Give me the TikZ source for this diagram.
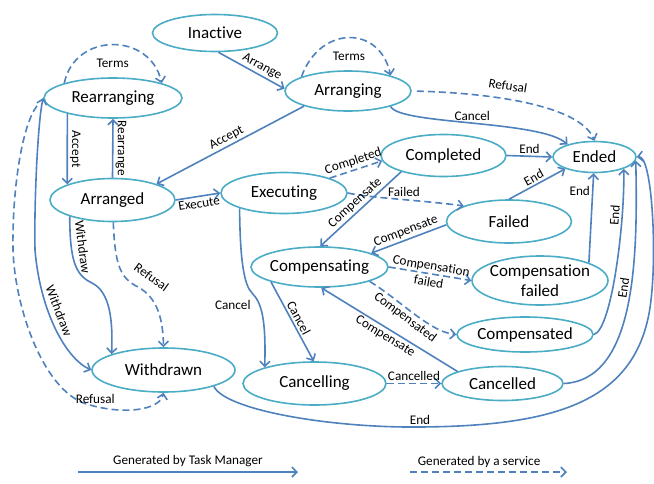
\documentclass[tikz,border=0pt]{standalone}
\usepackage{fontspec}
\setmainfont{Carlito}[Ligatures={NoCommon,NoContextual,NoRare}, RawFeature={-liga;-clig;-dlig}]
\usetikzlibrary{shapes.geometric,arrows.meta}
\definecolor{edgeblue}{RGB}{79,129,189}
\definecolor{stateblue}{RGB}{75,172,198}

\begin{document}
\begin{tikzpicture}[x=1pt, y=-1pt, >={Straight Barb[length=5pt,width=10pt]},
	state/.style={ellipse, draw=stateblue, line width=1.6pt, fill=white, inner xsep=-4pt, inner ysep=0pt, align=center, font=\fontsize{17}{20}\selectfont},
	tm/.style={draw=edgeblue, line width=1.6pt, ->, every node/.style={font=\fontsize{13.2}{15}\selectfont, inner sep=2pt}},
	svc/.style={tm, dash pattern=on 7pt off 4pt}]
\useasboundingbox (0,0) rectangle (654,483);
\node[state, minimum width=125pt, minimum height=37pt] (inactive) at (215,33) {Inactive};
\node[state, minimum width=126pt, minimum height=40pt] (arranging) at (348,91) {Arranging};
\node[state, minimum width=138pt, minimum height=40pt] (rearranging) at (113,98) {Rearranging};
\node[state, minimum width=125pt, minimum height=43pt] (arranged) at (112.5,200) {Arranged};
\node[state, minimum width=126pt, minimum height=41pt] (executing) at (284,193) {Executing};
\node[state, minimum width=125pt, minimum height=42pt] (completed) at (443.5,155.5) {Completed};
\node[state, minimum width=83pt, minimum height=31pt] (ended) at (594.5,157) {Ended};
\node[state, minimum width=125pt, minimum height=43pt] (failed) at (509,221.5) {Failed};
\node[state, minimum width=137pt, minimum height=40pt] (compensating) at (319.5,267) {Compensating};
\node[state, minimum width=136pt, minimum height=49pt, inner xsep=-6pt] (compfailed) at (540,280.5) {Compensation\\failed};
\node[state, minimum width=136pt, minimum height=35pt] (compensated) at (525,334.5) {Compensated};
\node[state, minimum width=143pt, minimum height=44pt] (withdrawn) at (163.5,370) {Withdrawn};
\node[state, minimum width=143pt, minimum height=43pt] (cancelling) at (314.5,383.5) {Cancelling};
\node[state, minimum width=121pt, minimum height=34pt] (cancelled) at (502.5,383.5) {Cancelled};

\draw[tm] (inactive.-80) -- node[sloped, above, pos=.6] {Arrange} (arranging.178);
\draw[svc] (arranging.163) .. controls (320,25) and (380,25) .. node[below=11pt] {Terms} (arranging.20);
\draw[svc] (rearranging.163) .. controls (75,32) and (150,32) .. node[below=11pt] {Terms} (rearranging.17);
\draw[svc, shorten <=5pt] (arranging.east) .. controls (490,93) and (580,105) .. node[sloped, above=6pt, pos=.4] {Refusal} (ended.north);
\draw[tm] (arranging.-20) .. controls (400,125) and (540,120) .. node[above] {Cancel} (ended.155);
\draw[tm] (arranging.199) -- node[sloped, above] {Accept} (arranged.20);
\draw[tm] (rearranging.199) -- node[rotate=-90, anchor=south] {Accept} (arranged.161);
\draw[tm] (arranged.north) -- node[rotate=-90, anchor=south] {Rearrange} (rearranging.south);
\draw[tm] (arranged.east) -- node[sloped, below] {Execute} (executing.west);
\draw[svc] (executing.18) -- node[sloped, above] {Completed} (completed.185);
\draw[svc] (executing.east) .. controls (370,198) and (420,200) .. node[above, pos=.55] {Failed} (failed.161);
\draw[tm] (completed.201) -- node[sloped, above] {Compensate} (compensating.88);
\draw[tm] (completed.east) -- node[above] {End} (ended.west);
\draw[tm] (failed.north) -- node[sloped, above] {End} (ended.202);
\draw[tm] (failed.183) -- node[sloped, above] {Compensate} (compensating.15);
\draw[tm] (executing.199) .. controls (240,260) and (244,285) .. (252,293)
	.. controls (262,303) and (266,320) .. node[left=6pt, pos=.3] {Cancel} (cancelling.162);
\draw[svc] (compensating.east) -- node[sloped, align=center, font=\fontsize{13.2}{16.5}\selectfont] {Compensation\\failed} (compfailed.west);
\draw[svc] (compensating.-16) .. controls (400,300) and (430,332) .. node[sloped, below, pos=.45] {Compensated} (compensated.west);
\draw[tm] (cancelled.165) -- node[sloped, below] {Compensate} (compensating.-85);
\draw[tm] (compensating.197) -- node[sloped, above] {Cancel} (cancelling.92);
\draw[svc] (cancelling.east) -- node[above] {Cancelled} (cancelled.west);
\draw[tm] (compfailed.20) -- node[left, pos=.8] {End} (ended.-93);
\draw[tm] (compensated.east) .. controls (612,330) and (625,220) .. node[sloped, above, pos=.75] {End} (ended.-22);
\draw[tm] (cancelled.east) .. controls (635,380) and (638,260) .. node[sloped, above, pos=.57] {End} (ended.-5);
\draw[tm] (withdrawn.-18) .. controls (225,410) and (330,428) .. (420,427) node[above] {End}
	.. controls (560,426) and (640,400) .. (651,300) .. controls (657,250) and (652,155) .. (ended.east);
\draw[tm] (arranged.201) .. controls (70,260) and (75,275) .. node[sloped, above=4pt, pos=.3] {Withdraw} (92,283)
	.. controls (110,292) and (113,320) .. (withdrawn.163);
\draw[svc] (arranged.-88) .. controls (115,265) and (120,278) .. (138,287)
	.. controls (158,298) and (163,320) .. node[sloped, above=8pt, pos=.08] {Refusal} (withdrawn.north);
\draw[tm, <->] (rearranging.west) .. controls (38,120) and (34,200) .. (35,250)
	.. controls (40,310) and (65,358) .. node[sloped, above=3pt, pos=.4] {Withdraw} (withdrawn.west);
\draw[svc, shorten <=10pt] (rearranging.west) .. controls (22,125) and (12,190) .. (13,250)
	.. controls (15,310) and (45,395) .. (90,405) .. controls (125,415) and (160,410) .. node[above, pos=.05] {Refusal} (withdrawn.south);

\coordinate (tmA) at (78,472);
\coordinate (tmB) at (298,472);
\draw[tm] (tmA) -- node[above=2pt] {Generated by Task Manager} (tmB);
\coordinate (svA) at (410,472);
\coordinate (svB) at (567,472);
\draw[svc] (svA) -- node[above=2pt, pos=.44] {Generated by a service} (svB);
\end{tikzpicture}
\end{document}
